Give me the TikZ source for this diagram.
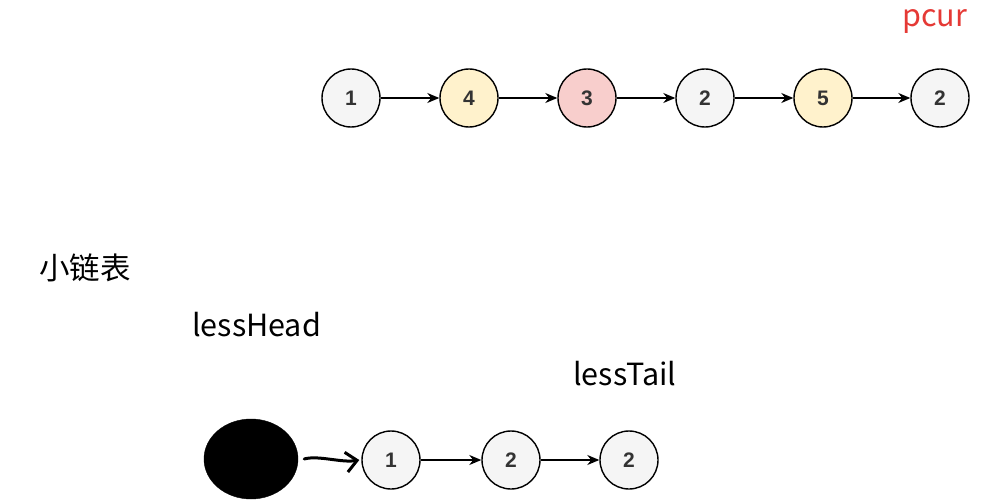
\documentclass[tikz,border=0pt]{standalone}
\usepackage{fontspec}
\setmainfont{Liberation Sans}
\newfontfamily\cjk{Noto Sans CJK SC}
\usetikzlibrary{arrows.meta,calc,positioning,shapes.geometric}

\definecolor{nodegray}{HTML}{F5F5F5}
\definecolor{nodeyellow}{HTML}{FFF2CC}
\definecolor{nodered}{HTML}{F8CECC}
\definecolor{pcurred}{HTML}{E53935}

\begin{document}
\begin{tikzpicture}[x=1pt,y=-1pt,
    listnode/.style={draw,circle,minimum size=58pt,inner sep=0pt,line width=1.4pt,
        fill=nodegray,text=black!80,font=\fontsize{21}{21}\selectfont\bfseries},
    txtlabel/.style={inner sep=0pt,anchor=west,font=\cjk\fontsize{30.5}{30.5}\selectfont},
    next/.style={-{Stealth[length=12pt,width=10pt]},line width=1.4pt},
    hand/.style={-{Straight Barb[length=11pt,width=20pt,line width=3pt]},line width=3pt,line cap=round}]

    \useasboundingbox (0,0) rectangle (1004,500);

    % original list
    \node[listnode] (a1) at (351,98) {1};
    \node[listnode,fill=nodeyellow] (a2) at (469,98) {4};
    \node[listnode,fill=nodered] (a3) at (587,98) {3};
    \node[listnode] (a4) at (705,98) {2};
    \node[listnode,fill=nodeyellow] (a5) at (823,98) {5};
    \node[listnode] (a6) at (940,98) {2};
    \foreach \i/\j in {a1/a2,a2/a3,a3/a4,a4/a5,a5/a6}
        \draw[next] (\i) -- (\j);

    \node[txtlabel,text=pcurred] (pcur) at (902,21) {pcur};

    % small list
    \node[txtlabel] (small) at (39,268) {小链表};
    \node[txtlabel] (lesshead) at (192,325) {lessHead};
    \node[txtlabel] (lesstail) at (573,374) {lessTail};

    \node[draw,ellipse,fill=black,minimum width=94pt,minimum height=80pt,inner sep=0pt] (blob) at (251,459) {};
    \node[listnode] (b1) at (391,460) {1};
    \node[listnode] (b2) at (511,460) {2};
    \node[listnode] (b3) at (629,460) {2};
    \draw[next] (b1) -- (b2);
    \draw[next] (b2) -- (b3);
    \draw[hand] ([xshift=6pt]blob.east) .. controls +(14,-4) and +(-18,3) .. ([xshift=-2pt]b1.west);
\end{tikzpicture}
\end{document}
